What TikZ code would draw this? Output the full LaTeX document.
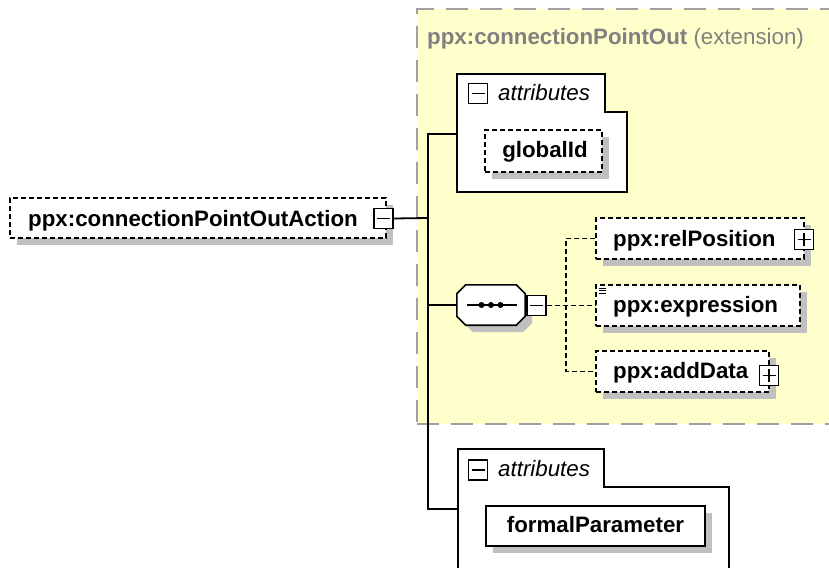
\documentclass[tikz,border=0pt]{standalone}
\usepackage{fontspec}
\setmainfont{Liberation Sans}
\usetikzlibrary{shadows}
\definecolor{ylw}{HTML}{FFFFCC}
\definecolor{shd}{HTML}{C0C0C0}
\definecolor{ttl}{HTML}{808080}
\definecolor{dsh}{HTML}{A0A0A0}
\begin{document}
\begin{tikzpicture}[x=1pt,y=-1pt,
 txt/.style={font=\fontsize{22.3}{26}\selectfont\bfseries, inner sep=0pt, anchor=base west},
 ital/.style={font=\fontsize{22.3}{26}\selectfont\itshape, inner sep=0pt, anchor=base west},
 shadowed/.style={drop shadow={shadow xshift=7pt, shadow yshift=-7pt, opacity=1, fill=shd}},
 elem/.style={draw, fill=white, line width=1.6pt, dash pattern=on 5pt off 3pt, inner sep=0pt, shadowed},
 elemsolid/.style={draw, fill=white, line width=1.6pt, inner sep=0pt, shadowed},
 btn/.style={draw, fill=white, line width=1.6pt, inner sep=0pt, minimum width=19pt, minimum height=20pt},
 btnminus/.style={btn, path picture={\draw[line width=1.6pt] ([xshift=-6.5pt]path picture bounding box.center) -- ([xshift=6.5pt]path picture bounding box.center);}},
 btnplus/.style={btn, path picture={\draw[line width=1.6pt] ([xshift=-6.5pt]path picture bounding box.center) -- ([xshift=6.5pt]path picture bounding box.center) ([yshift=-6.5pt]path picture bounding box.center) -- ([yshift=6.5pt]path picture bounding box.center);}},
 conn/.style={line width=1.8pt},
 dconn/.style={line width=1.6pt, dash pattern=on 5pt off 3pt},
 attrbox/.style={draw, fill=white, line width=1.8pt},
]
\useasboundingbox (0,0) rectangle (829,567);
\fill[white] (0,0) rectangle (829,567);

% extension container
\node[draw=dsh, fill=ylw, line width=2pt, dash pattern=on 22pt off 12pt, anchor=north west,
      minimum width=430pt, minimum height=415pt, inner sep=0pt] (ext) at (416,8) {};
\node[anchor=base west, inner sep=0pt, text=ttl, font=\fontsize{22.3}{26}\selectfont] (extT) at (427,45)
  {\textbf{ppx:connectionPointOut} (extension)};

% upper attributes box
\draw[attrbox] (457,74) -- (605,74) -- (605,112) -- (627,112) -- (627,192) -- (457,192) -- cycle;
\coordinate (a1w) at (457,134);
\node[btnminus] (a1B) at (478,93.5) {};
\node[ital] (a1T) at (498,101) {attributes};
\node[elem, minimum width=117pt, minimum height=42pt] (gid) at (543.5,151) {};
\node[txt, anchor=base] (gidT) at (545,157) {globalId};

% lower attributes box
\draw[attrbox] (458,449) -- (604,449) -- (604,487) -- (729,487) -- (729,600) -- (458,600) -- cycle;
\coordinate (a2w) at (458,509);
\node[btnminus] (a2B) at (478,470) {};
\node[ital] (a2T) at (498,476) {attributes};
\node[elemsolid, minimum width=219pt, minimum height=40pt] (fp) at (595.5,526) {};
\node[txt, anchor=base] (fpT) at (595.5,532) {formalParameter};

% main element
\node[elem, minimum width=376pt, minimum height=40pt] (main) at (198,218) {};
\node[txt] (mainT) at (28,226) {ppx:connectionPointOutAction};
\node[btnminus] (mainB) at (383.5,218.5) {};

% sequence compositor (octagon)
\node[minimum width=68pt, minimum height=40pt, inner sep=0pt] (seq) at (491,305) {};
\filldraw[fill=white, line width=1.6pt, shadowed]
  ([xshift=9pt]seq.north west) -- ([xshift=-9pt]seq.north east) -- ([yshift=-9pt]seq.north east)
  -- ([yshift=9pt]seq.south east) -- ([xshift=-9pt]seq.south east) -- ([xshift=9pt]seq.south west)
  -- ([yshift=9pt]seq.south west) -- ([yshift=-9pt]seq.north west) -- cycle;
\draw[line width=1.6pt] (467,305) -- (517,305);
\fill (481.5,305) circle (3pt);
\fill (491,305) circle (3pt);
\fill (500.5,305) circle (3pt);
\node[btnminus] (seqB) at (536.5,305.5) {};

% trunk connectors
\coordinate (tMain) at (428,218);
\coordinate (tA1) at (428,134);
\coordinate (tSeq) at (428,305);
\coordinate (tA2) at (428,509);
\draw[conn] (mainB.east) -- (tMain);
\draw[conn] (a1w) -- (tA1) -- (tA2) -- (a2w);
\draw[conn] (tSeq) -- (seq.west);

% sequence children
\node[elem, minimum width=208pt, minimum height=41pt] (rel) at (700,238.5) {};
\node[txt] (relT) at (613,246) {ppx:relPosition};
\node[btnplus] (relB) at (804,239.5) {};

\node[elem, minimum width=204pt, minimum height=41pt] (expr) at (698,305.5) {};
\node[txt] (exprT) at (613,312) {ppx:expression};
\draw[line width=1pt] (599,288) -- (606,288) (599,290.5) -- (606,290.5) (599,293) -- (606,293);

\node[elem, minimum width=173pt, minimum height=41pt] (add) at (682.5,371.5) {};
\node[txt] (addT) at (613,378) {ppx:addData};
\node[btnplus] (addB) at (769,375.5) {};

\coordinate (sv) at (566,305.5);
\draw[dconn] (seqB.east) -- (sv) -- (expr.west);
\draw[dconn] (rel.west) -| (sv) |- (add.west);
\end{tikzpicture}
\end{document}
